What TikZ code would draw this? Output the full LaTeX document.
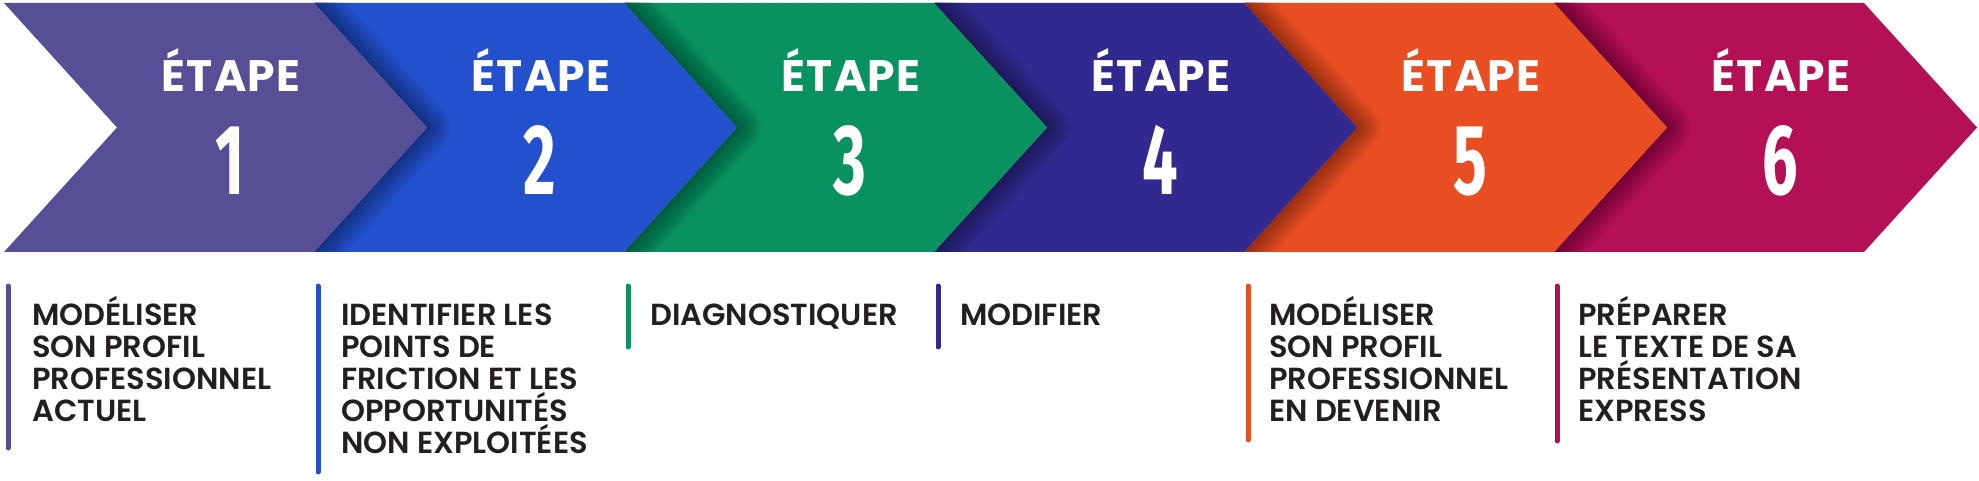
\documentclass[tikz,border=0pt]{standalone}
\usepackage{fontspec}
\newfontfamily\stepfont{Poppins}[UprightFont=* SemiBold, BoldFont=* Bold, LetterSpace=3]
\newfontfamily\numfont{Fira Sans}[FakeStretch=0.63]
\newfontfamily\descfont{Poppins}[UprightFont=* SemiBold]
\newcommand\desctext[1]{\parbox[t]{330pt}{\descfont\fontsize{30.5}{32}\selectfont\raggedright #1}}
\definecolor{etape1}{HTML}{574F95}
\definecolor{etape2}{HTML}{2350CC}
\definecolor{etape3}{HTML}{0A9160}
\definecolor{etape4}{HTML}{322990}
\definecolor{etape5}{HTML}{E94E22}
\definecolor{etape6}{HTML}{B31055}
\definecolor{textdark}{HTML}{231F20}
\tikzset{
  chev/.style={fill=#1},
  chevshadow/.style={draw=black, line join=round, line width=#1, opacity=0.025},
  bar/.style={draw=#1, line width=5pt, line cap=round},
  etape/.style={text=white, font=\stepfont\bfseries\fontsize{44}{44}\selectfont, inner sep=0pt, anchor=base},
  num/.style={text=white, font=\numfont\bfseries\fontsize{100}{100}\selectfont, inner sep=0pt, anchor=base},
  desc/.style={text=textdark, inner sep=0pt, anchor=base west},
}
\begin{document}
\begin{tikzpicture}[x=1pt, y=-1pt]
    \useasboundingbox (0,0) rectangle (1979,481);
    % chevrons, last one first
    \begin{scope}
    \clip (0,3) rectangle (1979,252);
    \fill[chev=etape6] (1554,3) -- (1864,3) -- (1977,127.5) -- (1864,252) -- (1554,252) -- (1667,127.5) -- cycle;
    \foreach \w in {3,6,...,48} \draw[chevshadow=\w pt] (1554,3) -- (1667,127.5) -- (1554,252);
    \fill[chev=etape5] (1244,3) -- (1554,3) -- (1667,127.5) -- (1554,252) -- (1244,252) -- (1357,127.5) -- cycle;
    \foreach \w in {3,6,...,48} \draw[chevshadow=\w pt] (1244,3) -- (1357,127.5) -- (1244,252);
    \fill[chev=etape4] (934,3) -- (1244,3) -- (1357,127.5) -- (1244,252) -- (934,252) -- (1047,127.5) -- cycle;
    \foreach \w in {3,6,...,48} \draw[chevshadow=\w pt] (934,3) -- (1047,127.5) -- (934,252);
    \fill[chev=etape3] (624,3) -- (934,3) -- (1047,127.5) -- (934,252) -- (624,252) -- (737,127.5) -- cycle;
    \foreach \w in {3,6,...,48} \draw[chevshadow=\w pt] (624,3) -- (737,127.5) -- (624,252);
    \fill[chev=etape2] (314,3) -- (624,3) -- (737,127.5) -- (624,252) -- (314,252) -- (427,127.5) -- cycle;
    \foreach \w in {3,6,...,48} \draw[chevshadow=\w pt] (314,3) -- (427,127.5) -- (314,252);
    \fill[chev=etape1] (4,3) -- (314,3) -- (427,127.5) -- (314,252) -- (4,252) -- (117,127.5) -- cycle;
    \end{scope}
    % headings
    \node[etape] (e_1) at (231,92) {ÉTAPE};
    \node[etape] (e_2) at (541,92) {ÉTAPE};
    \node[etape] (e_3) at (851,92) {ÉTAPE};
    \node[etape] (e_4) at (1161,92) {ÉTAPE};
    \node[etape] (e_5) at (1471,92) {ÉTAPE};
    \node[etape] (e_6) at (1781,92) {ÉTAPE};
    \node[num] (n_1) at (230,195) {1};
    \node[num] (n_2) at (540,195) {2};
    \node[num] (n_3) at (850,195) {3};
    \node[num] (n_4) at (1160,195) {4};
    \node[num] (n_5) at (1470,195) {5};
    \node[num] (n_6) at (1780,195) {6};
    % bars and texts
    \draw[bar=etape1] (8,286) -- (8,448);
    \draw[bar=etape2] (318,286) -- (318,472);
    \draw[bar=etape3] (628,286) -- (628,347);
    \draw[bar=etape4] (938,286) -- (938,347);
    \draw[bar=etape5] (1248,286) -- (1248,440);
    \draw[bar=etape6] (1557,286) -- (1557,441);
    \node[desc] (d_1) at (32,325) {\desctext{MODÉLISER\\SON PROFIL\\PROFESSIONNEL\\ACTUEL}};
    \node[desc] (d_2) at (341,325) {\desctext{IDENTIFIER LES\\POINTS DE\\FRICTION ET LES\\OPPORTUNITÉS\\NON EXPLOITÉES}};
    \node[desc] (d_3) at (650,325) {\desctext{DIAGNOSTIQUER}};
    \node[desc] (d_4) at (960,325) {\desctext{MODIFIER}};
    \node[desc] (d_5) at (1269,325) {\desctext{MODÉLISER\\SON PROFIL\\PROFESSIONNEL\\EN DEVENIR}};
    \node[desc] (d_6) at (1578,325) {\desctext{PRÉPARER\\LE TEXTE DE SA\\PRÉSENTATION\\EXPRESS}};
  \end{tikzpicture}
\end{document}
